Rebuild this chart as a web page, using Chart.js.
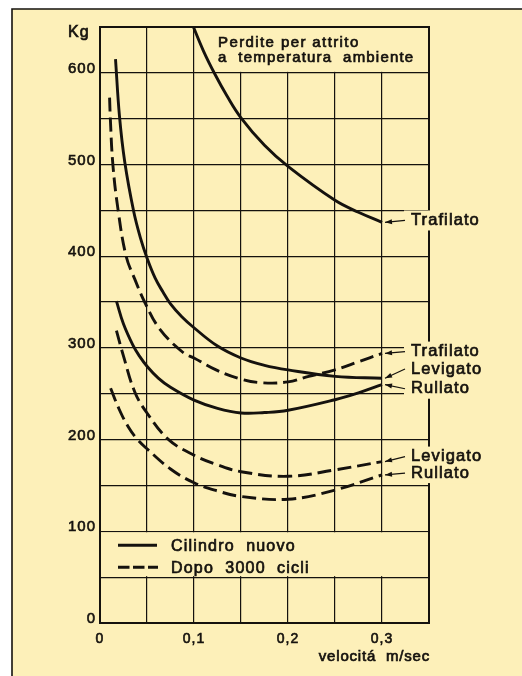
<!DOCTYPE html>
<html>
<head>
<meta charset="utf-8">
<script src="https://cdn.jsdelivr.net/npm/chart.js@4.4.0/dist/chart.umd.min.js"></script>
<style>
  html, body { margin: 0; padding: 0; background: #fff; }
</style>
</head>
<body>
<canvas id="attritoChart" width="522" height="676"></canvas>
<script>
// velocità (m/sec) e perdite (Kg)
const trafilatoNuovoV  = [0.097, 0.11, 0.122, 0.135, 0.15, 0.175, 0.2, 0.25, 0.275, 0.3];
const trafilatoNuovoKg = [656, 624, 599, 575, 551, 521, 498, 461, 448, 437];

const levigatoNuovoV  = [0.0165, 0.0207, 0.0263, 0.0358, 0.043, 0.05, 0.0587, 0.067, 0.075, 0.087, 0.1, 0.125, 0.15, 0.175, 0.2, 0.25, 0.3];
const levigatoNuovoKg = [615, 553, 503, 449, 420, 398, 376, 361, 348, 334, 322, 302, 289, 281, 276, 269, 267];

const rullatoNuovoV  = [0.0175, 0.025, 0.035, 0.042, 0.05, 0.062, 0.075, 0.1, 0.125, 0.15, 0.175, 0.2, 0.25, 0.275, 0.3];
const rullatoNuovoKg = [351, 326, 303, 291, 280, 267, 257, 243, 234, 229, 229.5, 232, 243.5, 251, 260];

const trafilatoDopoV  = [0.0102, 0.011, 0.0137, 0.0193, 0.0278, 0.037, 0.048, 0.064, 0.0884, 0.1, 0.1235, 0.15, 0.1725, 0.2, 0.222, 0.25, 0.275, 0.3];
const trafilatoDopoKg = [573, 550, 500, 450, 400, 375, 349, 320, 295, 289, 276, 266, 262, 263, 269, 276, 285, 294];

const levigatoDopoV  = [0.0175, 0.025, 0.037, 0.05, 0.073, 0.1, 0.125, 0.15, 0.2, 0.25, 0.3];
const levigatoDopoKg = [319, 291, 252, 229, 200, 183, 172.5, 165, 160, 167, 176];

const rullatoDopoV  = [0.0113, 0.02, 0.03, 0.04, 0.05, 0.075, 0.1, 0.125, 0.15, 0.2, 0.25, 0.3];
const rullatoDopoKg = [256, 234, 214, 200, 190, 168, 153, 144, 138, 135, 145, 161.5];

const xTickValues = [0, 0.1, 0.2, 0.3];
const xTickText = ['0', '0,1', '0,2', '0,3'];
const yTickValues = [0, 100, 200, 300, 400, 500, 600];

// etichette a destra: testo, serie a cui punta, quota in Kg
const endLabels = ['Trafilato', 'Trafilato', 'Levigato', 'Rullato', 'Levigato', 'Rullato'];
const endLabelSeries = [0, 3, 1, 2, 4, 5];
const endLabelKg = [439, 296, 277, 255.5, 181.5, 163.5];

const legendText = ['Cilindro  nuovo', 'Dopo  3000  cicli'];
const titleLines = ['Perdite per attrito', 'a  temperatura  ambiente'];

const paper = '#fdf0b9';
const ink = '#15120e';
const fontFamily = '"Liberation Sans", Arial, sans-serif';

function pts(vs, kgs) {
  return vs.map((v, i) => ({ x: v, y: kgs[i] }));
}

function curve(label, vs, kgs, dashed) {
  return {
    label: label,
    data: pts(vs, kgs),
    borderColor: ink,
    borderWidth: 2.9,
    borderDash: dashed ? [14, 6] : [],
    pointRadius: 0,
    fill: false,
    tension: 0.4
  };
}

function txt(ctx, s, x, y, size, spacing, align) {
  ctx.font = size + 'px ' + fontFamily;
  ctx.letterSpacing = spacing + 'px';
  ctx.textAlign = align || 'left';
  ctx.textBaseline = 'middle';
  ctx.fillStyle = ink;
  ctx.strokeStyle = ink;
  ctx.lineWidth = 0.7;
  ctx.fillText(s, x, y);
  ctx.strokeText(s, x, y);
}

const paperPlugin = {
  id: 'paper',
  beforeDraw(chart) {
    const ctx = chart.ctx;
    ctx.save();
    ctx.fillStyle = '#fff';
    ctx.fillRect(0, 0, chart.width, chart.height);
    ctx.fillStyle = paper;
    ctx.fillRect(12, 9, chart.width, chart.height);
    ctx.strokeStyle = ink;
    ctx.lineWidth = 1.6;
    ctx.beginPath();
    ctx.moveTo(12, chart.height);
    ctx.lineTo(12, 9);
    ctx.lineTo(chart.width, 9);
    ctx.stroke();
    ctx.restore();
    ctx.letterSpacing = '1px';
  },
  beforeDatasetsDraw(chart) {
    const { ctx, chartArea: a, scales: { x, y } } = chart;
    ctx.save();
    ctx.fillStyle = paper;
    // riquadro del titolo
    const tx = x.getPixelForValue(0.105);
    const t600 = y.getPixelForValue(600);
    ctx.fillRect(tx, a.top + 1, a.right - tx - 1, t600 - a.top - 2);
    // fascia della legenda
    const l1 = y.getPixelForValue(100), l2 = y.getPixelForValue(50);
    ctx.fillRect(a.left + 1, l1 + 1, a.width - 2, l2 - l1 - 2);
    // cornice
    ctx.strokeStyle = ink;
    ctx.lineWidth = 2;
    ctx.strokeRect(a.left, a.top, a.width, a.height);

    txt(ctx, titleLines[0], a.left + 118, a.top + 16, 15, 1.4);
    txt(ctx, titleLines[1], a.left + 118, a.top + 31, 15, 1.2);

    // legenda
    const r1 = l1 + 14, r2 = l1 + 36;
    ctx.lineWidth = 3;
    ctx.beginPath();
    ctx.moveTo(a.left + 18, r1);
    ctx.lineTo(a.left + 57, r1);
    ctx.stroke();
    ctx.setLineDash([11.5, 3.5]);
    ctx.beginPath();
    ctx.moveTo(a.left + 18, r2);
    ctx.lineTo(a.left + 58, r2);
    ctx.stroke();
    ctx.setLineDash([]);
    txt(ctx, legendText[0], a.left + 71, r1 + 1, 16, 1.2);
    txt(ctx, legendText[1], a.left + 71, r2 + 1, 16, 1.2);

    txt(ctx, 'Kg', a.left - 32, a.top + 6, 16, 1);
    txt(ctx, 'velocitá  m/sec', a.right + 1, a.bottom + 34, 15, 0.8, 'right');
    ctx.restore();
  },
  afterDatasetsDraw(chart) {
    const { ctx, chartArea: a, scales: { y } } = chart;
    ctx.save();
    const textX = a.right - 21;
    endLabels.forEach((name, i) => {
      const ly = y.getPixelForValue(endLabelKg[i]);
      ctx.fillStyle = paper;
      ctx.fillRect(textX - 4, ly - 10, 80, 20);
    });
    endLabels.forEach((name, i) => {
      const ly = y.getPixelForValue(endLabelKg[i]);
      const meta = chart.getDatasetMeta(endLabelSeries[i]);
      const last = meta.data[meta.data.length - 1];
      const tipX = last.x + 3, tipY = last.y;
      const fromX = textX - 3, fromY = ly;
      ctx.strokeStyle = ink;
      ctx.fillStyle = ink;
      ctx.lineWidth = 1.2;
      ctx.beginPath();
      ctx.moveTo(fromX, fromY);
      ctx.lineTo(tipX, tipY);
      ctx.stroke();
      const ang = Math.atan2(fromY - tipY, fromX - tipX);
      ctx.beginPath();
      ctx.moveTo(tipX, tipY);
      ctx.lineTo(tipX + 7 * Math.cos(ang) - 2.5 * Math.sin(ang), tipY + 7 * Math.sin(ang) + 2.5 * Math.cos(ang));
      ctx.lineTo(tipX + 7 * Math.cos(ang) + 2.5 * Math.sin(ang), tipY + 7 * Math.sin(ang) - 2.5 * Math.cos(ang));
      ctx.closePath();
      ctx.fill();
      txt(ctx, name, textX + 3, ly, 16.5, 1.1);
    });
    ctx.restore();
  }
};

const ctx = document.getElementById('attritoChart').getContext('2d');
new Chart(ctx, {
  type: 'line',
  data: {
    datasets: [
      curve('Trafilato - cilindro nuovo', trafilatoNuovoV, trafilatoNuovoKg, false),
      curve('Levigato - cilindro nuovo', levigatoNuovoV, levigatoNuovoKg, false),
      curve('Rullato - cilindro nuovo', rullatoNuovoV, rullatoNuovoKg, false),
      curve('Trafilato - dopo 3000 cicli', trafilatoDopoV, trafilatoDopoKg, true),
      curve('Levigato - dopo 3000 cicli', levigatoDopoV, levigatoDopoKg, true),
      curve('Rullato - dopo 3000 cicli', rullatoDopoV, rullatoDopoKg, true)
    ]
  },
  options: {
    responsive: false,
    animation: false,
    layout: { padding: { top: 27, right: 93, left: 0, bottom: 0 } },
    plugins: {
      legend: { display: false },
      tooltip: { enabled: false }
    },
    scales: {
      x: {
        type: 'linear',
        min: 0,
        max: 0.35,
        afterFit(scale) { scale.height = 53; },
        border: { display: false },
        grid: { color: ink, lineWidth: 1.2, drawTicks: false },
        ticks: {
          stepSize: 0.05,
          autoSkip: false,
          maxRotation: 0,
          padding: 8,
          color: ink,
          textStrokeWidth: 0.6,
          textStrokeColor: ink,
          font: { family: fontFamily, size: 14 },
          callback(v) {
            const i = xTickValues.findIndex(t => Math.abs(t - v) < 1e-6);
            return i >= 0 ? xTickText[i] : '';
          }
        }
      },
      y: {
        min: 0,
        max: 650,
        afterFit(scale) { scale.width = 100; },
        border: { display: false },
        grid: { color: ink, lineWidth: 1.2, drawTicks: false },
        ticks: {
          stepSize: 50,
          autoSkip: false,
          padding: 4,
          labelOffset: -4,
          color: ink,
          textStrokeWidth: 0.6,
          textStrokeColor: ink,
          font: { family: fontFamily, size: 15 },
          callback(v) {
            return yTickValues.includes(v) ? String(v) : '';
          }
        }
      }
    }
  },
  plugins: [paperPlugin]
});
</script>
</body>
</html>
